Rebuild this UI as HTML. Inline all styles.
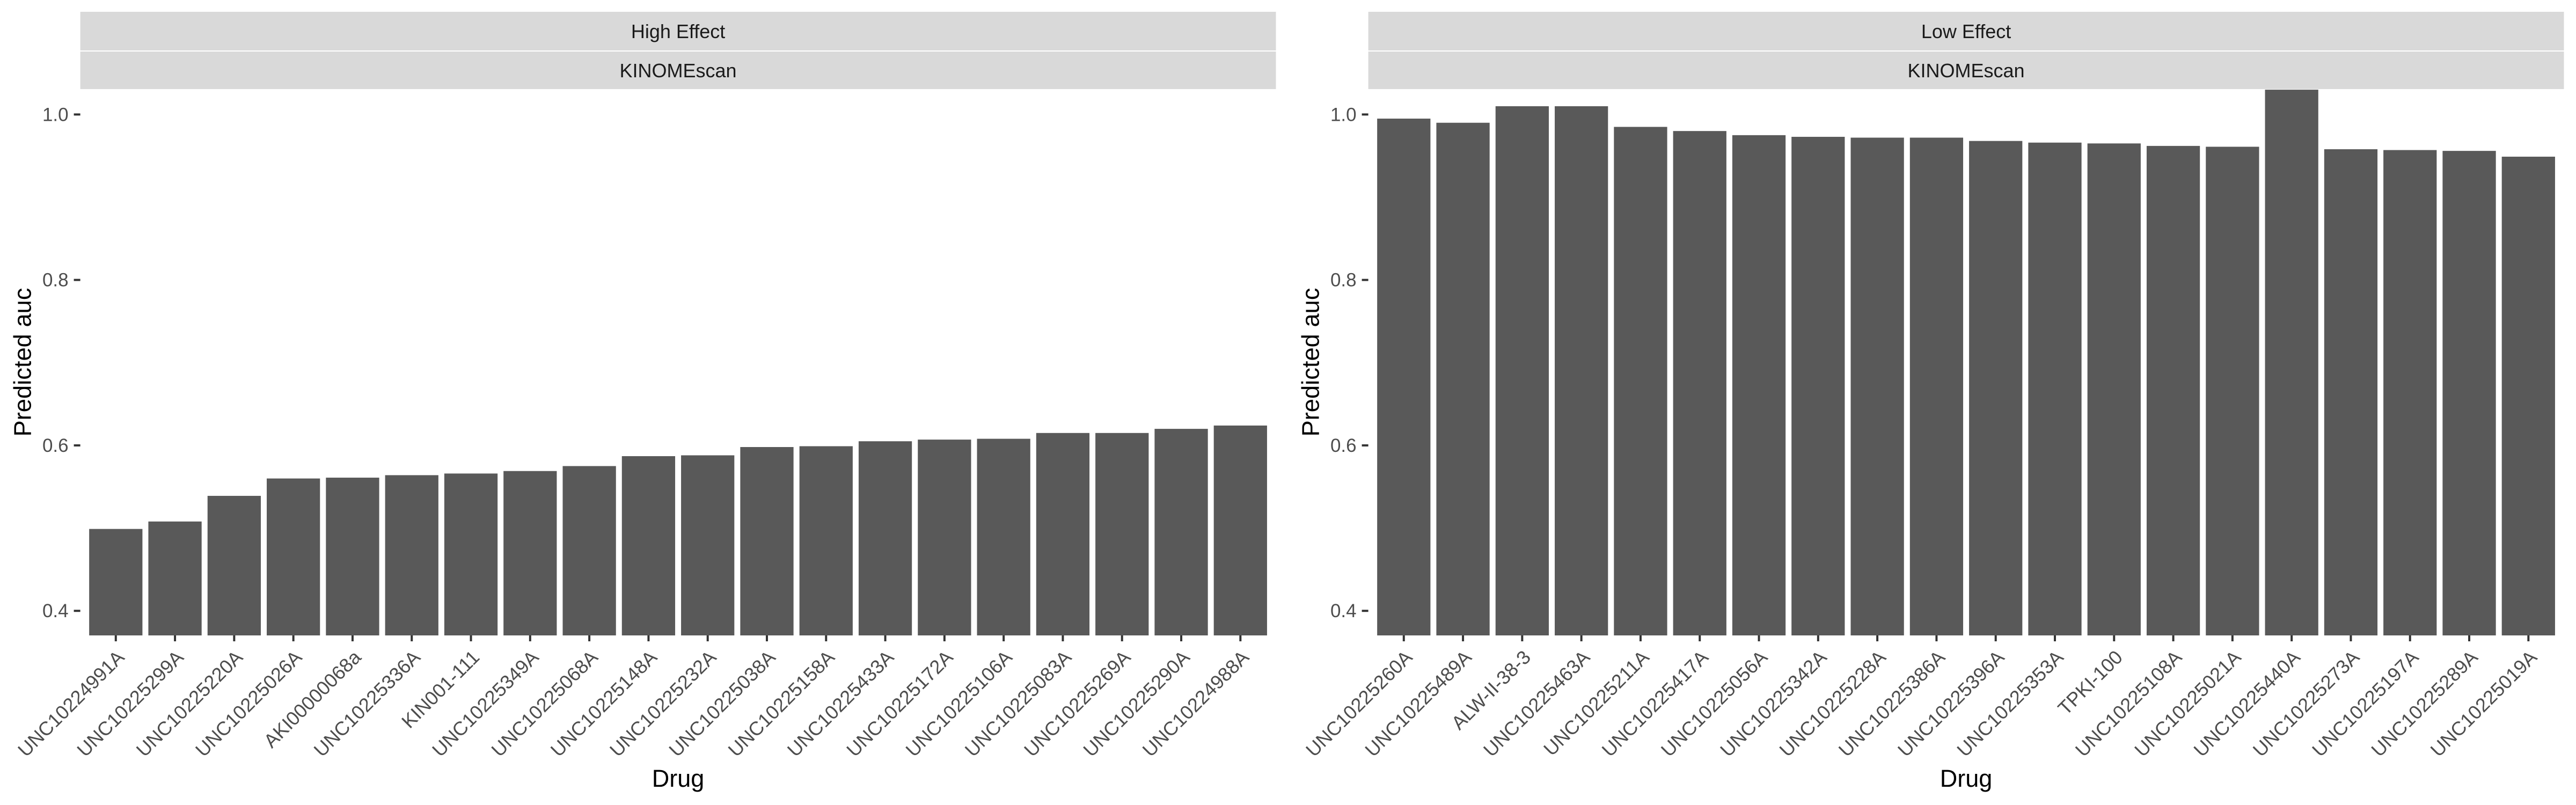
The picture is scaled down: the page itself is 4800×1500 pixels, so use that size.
<!DOCTYPE html>
<html><head><meta charset="utf-8"><style>
html,body{margin:0;padding:0;background:#fff;}
svg{display:block;}
text{font-family:"Liberation Sans",Arial,sans-serif;}
</style></head>
<body>
<svg id="chart" xmlns="http://www.w3.org/2000/svg" width="4800" height="1500" viewBox="0 0 4800 1500"></svg>
<script>
const highDrugs = ["UNC10224991A","UNC10225299A","UNC10225220A","UNC10225026A","AKI00000068a","UNC10225336A","KIN001-111","UNC10225349A","UNC10225068A","UNC10225148A","UNC10225232A","UNC10225038A","UNC10225158A","UNC10225433A","UNC10225172A","UNC10225106A","UNC10225083A","UNC10225269A","UNC10225290A","UNC10224988A"];
const highValues = [0.499,0.508,0.539,0.560,0.561,0.564,0.566,0.569,0.575,0.587,0.588,0.598,0.599,0.605,0.607,0.608,0.615,0.615,0.620,0.624];
const lowDrugs = ["UNC10225260A","UNC10225489A","ALW-II-38-3","UNC10225463A","UNC10225211A","UNC10225417A","UNC10225056A","UNC10225342A","UNC10225228A","UNC10225386A","UNC10225396A","UNC10225353A","TPKI-100","UNC10225108A","UNC10225021A","UNC10225440A","UNC10225273A","UNC10225197A","UNC10225289A","UNC10225019A"];
const lowValues = [0.995,0.990,1.010,1.010,0.985,0.980,0.975,0.973,0.972,0.972,0.968,0.966,0.965,0.962,0.961,1.030,0.958,0.957,0.956,0.949];
const yTicks = [0.4,0.6,0.8,1.0];
const yTickLabels = ["0.4","0.6","0.8","1.0"];
const facetTop = ["High Effect","Low Effect"];
const facetSub = ["KINOMEscan","KINOMEscan"];

const NS="http://www.w3.org/2000/svg";
const svg=document.getElementById('chart');
const Y0=166, Y1=1184, VMIN=0.3703, VMAX=1.0307;
function yScale(v){return Y1-(v-VMIN)/(VMAX-VMIN)*(Y1-Y0);}
function mk(tag,attrs,parent){const e=document.createElementNS(NS,tag);for(const k in attrs)e.setAttribute(k,attrs[k]);(parent||svg).appendChild(e);return e;}

const panels=[{x0:149.6,x1:2377.5,drugs:highDrugs,vals:highValues,key:'high'},{x0:2549.6,x1:4777.5,drugs:lowDrugs,vals:lowValues,key:'low'}];
panels.forEach((p,pi)=>{
  const g=mk('g',{});
  
  
  const n=p.drugs.length;
  const step=(p.x1-p.x0)/(n-1+1.2);
  function xScale(i){return p.x0+step*(0.6+i);}
  // strips
  const s1=mk('rect',{x:p.x0,y:22,width:p.x1-p.x0,height:72,fill:'#d9d9d9'},g);
  
  
  const s2=mk('rect',{x:p.x0,y:96,width:p.x1-p.x0,height:70,fill:'#d9d9d9'},g);
  
  
  const cx=(p.x0+p.x1)/2;
  const t1=mk('text',{x:cx,y:71,'font-size':36,fill:'#1a1a1a','text-anchor':'middle'},g);t1.textContent=facetTop[pi];
  
  
  const t2=mk('text',{x:cx,y:144,'font-size':36,fill:'#1a1a1a','text-anchor':'middle'},g);t2.textContent=facetSub[pi];
  
  
  // y ticks
  yTicks.forEach((v,k)=>{
    const y=yScale(v);
    const tk=mk('line',{x1:p.x0-12,x2:p.x0,y1:y,y2:y,stroke:'#333',"stroke-width":4},g);
    
    
    const tl=mk('text',{x:p.x0-22,y:y+12,'font-size':35,fill:'#4d4d4d','text-anchor':'end'},g);tl.textContent=yTickLabels[k];
    
    
  });
  // bars
  p.vals.forEach((v,i)=>{
    const xc=xScale(i), w=step*0.9;
    const yt=Math.max(yScale(v),Y0);
    const b=mk('rect',{x:xc-w/2,y:yt,width:w,height:Y1-yt,fill:'#595959'},g);
    
    
    const tk=mk('line',{x1:xc,x2:xc,y1:Y1,y2:Y1+11,stroke:'#333','stroke-width':4},g);
    
    
    const ax=xc+18, ay=1227;
    const tl=mk('text',{x:ax,y:ay,'font-size':36,fill:'#4d4d4d','text-anchor':'end',transform:'rotate(-45 '+ax+' '+ay+')'},g);
    tl.textContent=p.drugs[i];
    
    
  });
  // axis titles
  const xt=mk('text',{x:cx,y:1466,'font-size':45,fill:'#000','text-anchor':'middle'},g);xt.textContent='Drug';
  
  
  const yx=p.x0-92, yy=675;
  const yt=mk('text',{x:yx,y:yy,'font-size':45,fill:'#000','text-anchor':'middle',textLength:277,lengthAdjust:'spacingAndGlyphs',transform:'rotate(-90 '+yx+' '+yy+')'},g);yt.textContent='Predicted auc';
  
  
});
</script>
</body></html>
